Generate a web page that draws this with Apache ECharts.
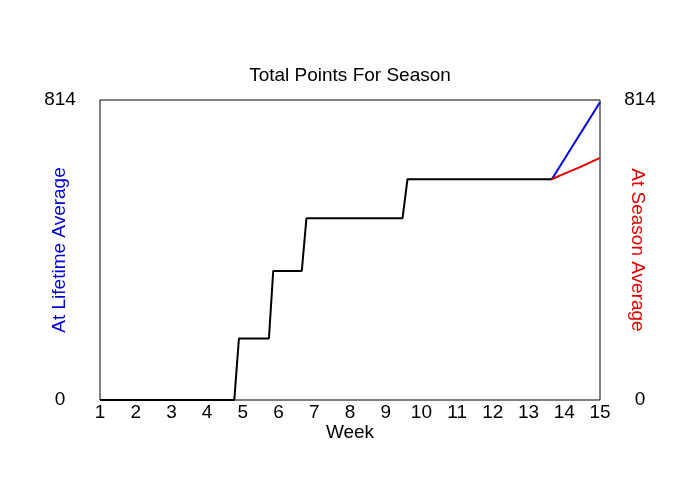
<!DOCTYPE html>
<html><head><meta charset="utf-8">
<script src="https://cdn.jsdelivr.net/npm/echarts@6/dist/echarts.min.js"></script>
<style>html,body{margin:0;padding:0;background:#fff}#c{width:700px;height:500px}</style>
</head><body><div id="c"></div>
<script>
const weekTicks = [1,2,3,4,5,6,7,8,9,10,11,12,13,14,15];
const yMax = 814;
const actualWeeks  = [1, 4.76, 4.89, 5.73, 5.85, 6.65, 6.78, 9.47, 9.61, 13.65];
const actualPoints = [0, 0, 167, 167, 350, 350, 493, 493, 599, 599];
const lifetimeWeeks  = [13.65, 15];
const lifetimePoints = [599, 808];
const seasonWeeks  = [13.65, 14.02, 14.44, 15];
const seasonPoints = [599, 615, 632, 657];

const zip = (a, b) => a.map((v, i) => [v, b[i]]);
const font = 'Liberation Sans, Arial, sans-serif';
const fs = 19;
const chart = echarts.init(document.getElementById('c'), null, {renderer: 'canvas'});
const yAxisBase = {
  type: 'value', min: 0, max: yMax, interval: yMax,
  nameLocation: 'middle', nameMoveOverlap: false,
  nameTextStyle: {fontSize: fs, fontFamily: font},
  axisLine: {show: false}, axisTick: {show: false}, splitLine: {show: false},
  axisLabel: {align: 'center', margin: 40, fontSize: fs, color: '#000', fontFamily: font}
};
chart.setOption({
  animation: false,
  title: {text: 'Total Points For Season', left: 'center', top: 61,
    textStyle: {fontSize: fs, fontWeight: 'normal', color: '#000', fontFamily: font}},
  grid: {left: 100, right: 100, top: 100, bottom: 100, show: true, borderColor: '#000', borderWidth: 1, backgroundColor: 'transparent'},
  xAxis: {type: 'value', min: weekTicks[0], max: weekTicks[weekTicks.length-1], interval: 1,
    name: 'Week', nameLocation: 'middle', nameGap: 23, nameMoveOverlap: false,
    nameTextStyle: {fontSize: fs, color: '#000', fontFamily: font},
    axisLine: {show: false}, axisTick: {show: false}, splitLine: {show: false},
    axisLabel: {margin: 3, fontSize: fs, color: '#000', fontFamily: font}},
  yAxis: [
    Object.assign({}, yAxisBase, {position: 'left', name: 'At Lifetime Average', nameGap: 31,
      nameTextStyle: Object.assign({}, yAxisBase.nameTextStyle, {color: '#0000dd'})}),
    Object.assign({}, yAxisBase, {position: 'right', name: 'At Season Average', nameGap: 28, nameRotate: -90,
      nameTextStyle: Object.assign({}, yAxisBase.nameTextStyle, {color: '#e00000'})})
  ],
  series: [
    {type: 'line', data: zip(lifetimeWeeks, lifetimePoints), showSymbol: false, lineStyle: {color: '#0000dd', width: 2}, z: 2},
    {type: 'line', data: zip(seasonWeeks, seasonPoints), showSymbol: false, lineStyle: {color: '#e00000', width: 2}, z: 2},
    {type: 'line', data: zip(actualWeeks, actualPoints), showSymbol: false, lineStyle: {color: '#000', width: 2}, z: 3}
  ]
});
</script></body></html>
